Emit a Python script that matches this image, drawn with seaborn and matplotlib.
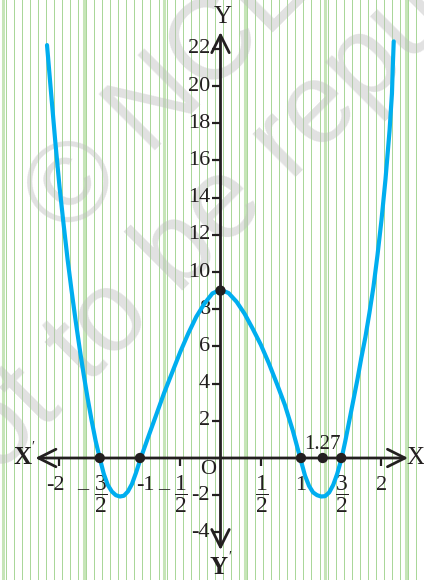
import numpy as np
import pandas as pd
import seaborn as sns
import matplotlib
matplotlib.use("Agg")
import matplotlib.pyplot as plt

# curve
curve_x = [-2.155, -2.10, -2.05, -2.00, -1.95, -1.90, -1.85, -1.80, -1.75, -1.70,
           -1.65, -1.60, -1.55, -1.50, -1.45, -1.40, -1.35, -1.30, -1.25, -1.20,
           -1.15, -1.10, -1.05, -0.99, -0.90, -0.80, -0.70, -0.60, -0.50, -0.40,
           -0.30, -0.20, -0.10, 0.0, 0.10, 0.20, 0.30, 0.40, 0.50, 0.60,
           0.70, 0.80, 0.90, 0.99, 1.05, 1.10, 1.15, 1.20, 1.25, 1.30,
           1.35, 1.40, 1.45, 1.505, 1.55, 1.60, 1.65, 1.70, 1.75, 1.80,
           1.85, 1.90, 1.95, 2.00, 2.05, 2.10, 2.13, 2.14, 2.152]
curve_y = [22.2, 19.4, 16.9, 14.6, 12.6, 10.7, 9.0, 7.4, 5.9, 4.5,
           3.2, 2.0, 0.9, 0.0, -0.85, -1.45, -1.8, -2.0, -2.07, -2.03,
           -1.8, -1.4, -0.8, 0.0, 1.1, 2.3, 3.5, 4.6, 5.7, 6.7,
           7.6, 8.3, 8.85, 9.05, 8.87, 8.4, 7.75, 6.95, 6.1, 5.1,
           4.0, 2.85, 1.45, 0.0, -0.95, -1.5, -1.85, -2.0, -2.07, -2.05,
           -1.85, -1.45, -0.85, 0.0, 0.9, 2.0, 3.1, 4.2, 5.4, 6.5,
           7.8, 9.2, 10.9, 12.8, 15.0, 17.6, 19.6, 21.0, 22.4]

dot_x = [-1.5, -1.0, 0.0, 1.0, 1.27, 1.5]
dot_y = [0, 0, 9, 0, 0, 0]

ytick_vals = [22, 20, 18, 16, 14, 12, 10, 8, 6, 4, 2, -2, -4]
xtick_vals = [-2, -0.5, 0.5, 2]
whole_labels = {-2: "-2", -1: "-1", 1: "1", 2: "2"}
frac_labels = [(-1.5, "3", True), (-0.5, "1", True), (0.5, "1", False), (1.5, "3", False)]

sns.set_style("white")
plt.rcParams['font.family'] = ['Liberation Serif', 'DejaVu Serif']
plt.rcParams['mathtext.fontset'] = 'custom'
plt.rcParams['mathtext.rm'] = 'Liberation Serif'

W, H = 424, 580
ink = '#231f20'
fig = plt.figure(figsize=(W / 100, H / 100), dpi=100)
ax = fig.add_axes([0, 0, 1, 1])
ax.set_xlim(-2.739, 2.528)
ax.set_ylim(-6.559, 24.624)
ax.axis('off')

def P(px, py):
    return px / W, 1 - py / H

# graph paper
minor = np.round(np.arange(-3.0, 2.6, 0.1) + 0.03, 3)
ax.vlines(minor, -10, 30, color='#a8d697', lw=0.7, zorder=0)
major = np.arange(-2.7, 2.6, 1.0)
ax.vlines(major, -10, 30, color='#c6e5b8', lw=2.2, zorder=0)

# watermark
wm = dict(color='#bdbdbd', alpha=0.45, family='Liberation Sans', rotation=45,
          rotation_mode='anchor', va='center', zorder=1, fontsize=83,
          transform=ax.transAxes)
ax.text(*P(45, 218), "\u00a9 NCERT", ha='left', **wm)
ax.text(*P(311, 121), "not to be republished", ha='center', **wm)

# axes with arrows
arrow = dict(arrowstyle='<->,head_length=0.7,head_width=0.35', lw=2, color=ink,
             mutation_scale=18, shrinkA=0, shrinkB=0)
ax.annotate('', xy=(2.33, 0), xytext=(-2.30, 0), arrowprops=arrow, zorder=3)
ax.annotate('', xy=(0, 22.9), xytext=(0, -4.95), arrowprops=arrow, zorder=3)

# ticks
ax.plot([0] * len(ytick_vals), ytick_vals, linestyle='none', marker=0,
        markersize=6, markeredgewidth=1.6, color=ink, zorder=3)
ax.plot(xtick_vals, [0] * len(xtick_vals), linestyle='none', marker=3,
        markersize=5.5, markeredgewidth=1.6, color=ink, zorder=3)

# curve and points
df = pd.DataFrame({'x': curve_x, 'y': curve_y})
sns.lineplot(data=df, x='x', y='y', sort=False, estimator=None, color='#00aeef',
             lw=3, ax=ax, zorder=4)
sns.scatterplot(x=dot_x, y=dot_y, color=ink, s=55, edgecolor='none',
                ax=ax, zorder=5)

# y tick labels
for v in ytick_vals:
    ax.annotate(str(v), (0, v), xytext=(-7.5, 0), textcoords='offset points',
                ha='right', va='center', fontsize=16, color=ink)

# x tick labels
for v, s in whole_labels.items():
    dx = -3 if v == -2 else (4 if v == -1 else 0)
    ax.annotate(s, (v, 0), xytext=(dx, -19.5), textcoords='offset points',
                ha='center', va='center', fontsize=16, color=ink)
for v, num, neg in frac_labels:
    ax.annotate(r'$\dfrac{%s}{2}$' % num, (v, 0), xytext=(0.5, -26.5),
                textcoords='offset points', ha='center', va='center',
                fontsize=17, color=ink)
    if neg:
        ax.annotate('\u2013', (v, 0), xytext=(-12, -23), textcoords='offset points',
                    ha='center', va='center', fontsize=16, color=ink)

ax.annotate('O', (0, 0), xytext=(-9, -8.6), textcoords='offset points',
            ha='center', va='center', fontsize=16, color=ink)
ax.annotate('1.27', (1.27, 0), xytext=(0, 9.4), textcoords='offset points',
            ha='center', va='center', fontsize=15, color=ink)

# axis names
ax.text(*P(22, 458), 'X', transform=ax.transAxes, ha='center', va='center',
        fontsize=18, fontweight='bold', color=ink)
ax.text(*P(33, 447), '\u2032', transform=ax.transAxes, ha='center', va='center',
        fontsize=10, color=ink)
ax.text(*P(415, 458), 'X', transform=ax.transAxes, ha='center', va='center',
        fontsize=18, color=ink)
ax.text(*P(223, 17), 'Y', transform=ax.transAxes, ha='center', va='center',
        fontsize=18, color=ink)
ax.text(*P(219, 568), 'Y', transform=ax.transAxes, ha='center', va='center',
        fontsize=18, fontweight='bold', color=ink)
ax.text(*P(230, 557), '\u2032', transform=ax.transAxes, ha='center', va='center',
        fontsize=10, color=ink)

fig.savefig('out.png', dpi=100)
